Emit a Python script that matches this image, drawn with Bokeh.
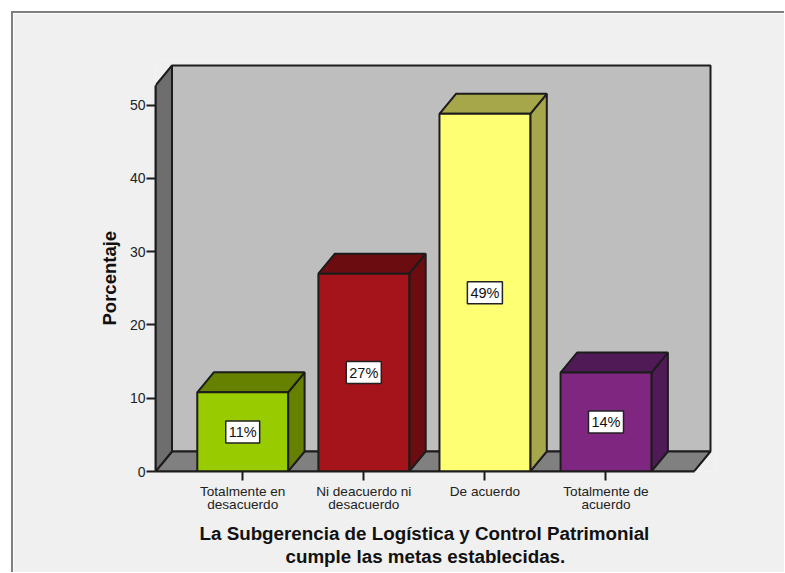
from bokeh.plotting import figure
from bokeh.models import FixedTicker, Label, Range1d, Title
from bokeh.embed import file_html
from bokeh.resources import INLINE

categories = ["Totalmente en\ndesacuerdo", "Ni deacuerdo ni\ndesacuerdo", "De acuerdo", "Totalmente de\nacuerdo"]
values = [10.8, 27.0, 48.8, 13.5]
labels = ["11%", "27%", "49%", "14%"]
y_ticks = [0, 10, 20, 30, 40, 50]
front_colors = ["#99cc00", "#a5141a", "#ffff73", "#7f2680"]
shade_colors = ["#668000", "#6b0d10", "#a6a64b", "#4f1a55"]
x_title_lines = ["La Subgerencia de Logística y Control Patrimonial", "cumple las metas establecidas."]
y_title = "Porcentaje"

FONT = "Liberation Sans"
EDGE = "#1c1c1c"
LW = 2
BW = 0.75
DX = 16.5 / 121.1
DY = 20 / 7.33
XL, XR = -0.72, 3.863
YT = 55.4
XPAD, YPAD = 5 / 121.1, 5 / 7.33
xs = list(range(len(categories)))

p = figure(width=771, height=559, margin=(11, 0, 0, 11), output_backend="svg", toolbar_location=None,
           x_range=Range1d(XL, XR + XPAD), y_range=Range1d(0, YT + YPAD),
           frame_width=560, frame_height=411,
           min_border_left=142, min_border_top=47, min_border_right=69, min_border_bottom=101,
           background_fill_color="#f0f0f0", border_fill_color="#f0f0f0",
           styles={"border-left": "2px solid #808080", "border-top": "2px solid #808080"})
p.outline_line_color = None
p.grid.visible = False

# walls and floor
p.patches([[XL + DX, XR, XR, XL + DX]], [[DY, DY, YT, YT]], fill_color="#bebebe", line_color=EDGE, line_width=LW)
p.patches([[XL, XR - DX, XR, XL + DX]], [[0, 0, DY, DY]], fill_color="#808080", line_color=EDGE, line_width=LW)
p.patches([[XL, XL + DX, XL + DX, XL]], [[0, DY, YT, YT - DY]], fill_color="#6e6e6e", line_color=EDGE, line_width=LW)

# bars
lefts = [x - BW / 2 for x in xs]
rights = [x + BW / 2 for x in xs]
p.patches([[r, r + DX, r + DX, r] for r in rights],
          [[0, DY, v + DY, v] for v in values],
          fill_color=shade_colors, line_color=EDGE, line_width=LW)
p.patches([[l, r, r + DX, l + DX] for l, r in zip(lefts, rights)],
          [[v, v, v + DY, v + DY] for v in values],
          fill_color=shade_colors, line_color=EDGE, line_width=LW)
p.quad(left=lefts, right=rights, bottom=0, top=values, fill_color=front_colors, line_color=EDGE, line_width=LW)

for x, v, t in zip(xs, values, labels):
    p.add_layout(Label(x=x, y=v / 2, text=t, text_align="center", text_baseline="middle",
                       text_font=FONT, text_font_size="14.5px", text_color="#111111",
                       background_fill_color="white", border_line_color="#222222", border_line_width=1.5,
                       padding=3))

for line, off, st in zip(x_title_lines, [44, 130], [10, -9]):
    p.add_layout(Title(text=line, align="left", offset=off, standoff=st, text_font=FONT, text_font_style="bold",
                       text_font_size="18.8px", text_color="#111111"), "below")
p.add_layout(Title(text=y_title, align="left", offset=146, standoff=13, text_font=FONT, text_font_style="bold",
                   text_font_size="18.5px", text_color="#111111"), "left")

ya = p.yaxis[0]
ya.ticker = FixedTicker(ticks=y_ticks)
ya.bounds = (0, YT - DY)
ya.major_label_text_font = FONT
ya.major_label_text_font_size = "14px"
ya.major_label_text_color = "#222222"
ya.major_label_standoff = 1
ya.major_tick_out = 9
ya.major_tick_in = 0
ya.minor_tick_out = 0
ya.minor_tick_in = 0
ya.axis_line_color = EDGE
ya.axis_line_width = LW
ya.major_tick_line_color = EDGE
ya.major_tick_line_width = LW

xa = p.xaxis[0]
xa.ticker = FixedTicker(ticks=xs)
xa.major_label_overrides = dict(zip(xs, categories))
xa.bounds = (XL, XR - DX)
xa.major_label_text_font = FONT
xa.major_label_text_font_size = "13.6px"
xa.major_label_text_line_height = 0.9
xa.major_label_text_color = "#222222"
xa.major_label_standoff = 3
xa.major_tick_out = 9
xa.major_tick_in = 0
xa.minor_tick_out = 0
xa.minor_tick_in = 0
xa.axis_line_color = EDGE
xa.axis_line_width = LW
xa.major_tick_line_color = EDGE
xa.major_tick_line_width = LW

open("out.html", "w").write(file_html(p, INLINE))
